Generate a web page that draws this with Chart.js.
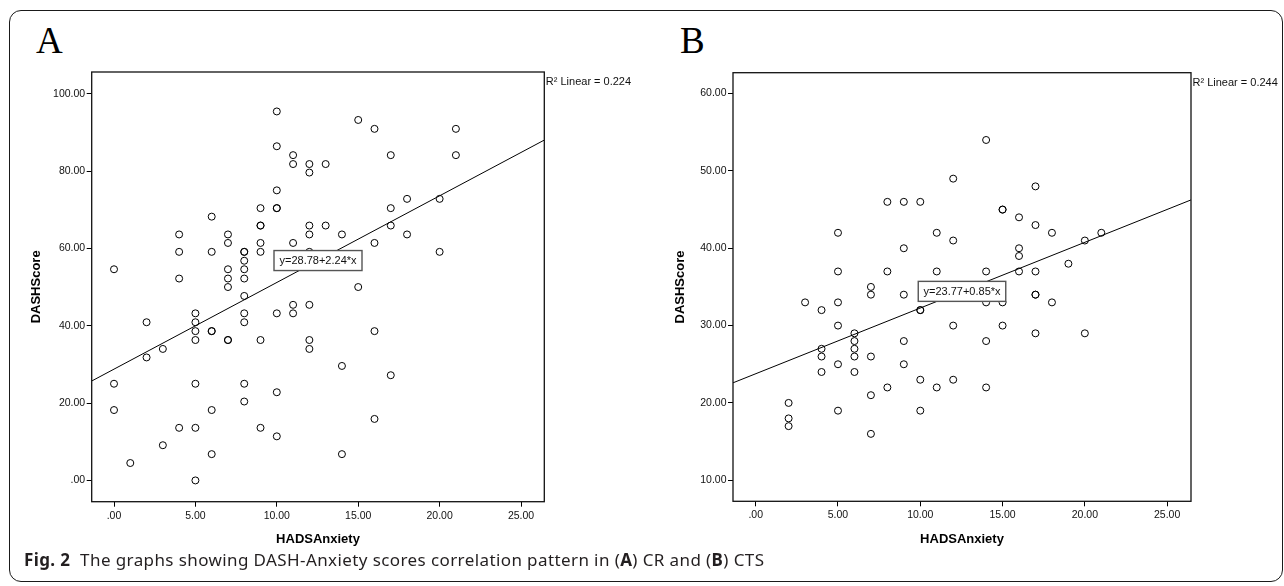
<!DOCTYPE html>
<html>
<head>
<meta charset="utf-8">
<script src="https://cdn.jsdelivr.net/npm/chart.js@4.4.1/dist/chart.umd.min.js"></script>
<style>
  body { margin: 0; background: #fff; width: 1284px; height: 586px; overflow: hidden; position: relative; }
  .frame { position: absolute; left: 9px; top: 10px; width: 1272px; height: 570px; border: 1.3px solid #1a1a1a; border-radius: 12px; }
  .letter { position: absolute; top: 22px; font-family: "Liberation Serif", serif; font-size: 37px; line-height: 37px; color: #000; }
  .plot { position: absolute; top: 60px; }
  .caption { position: absolute; left: 24px; top: 549px; font-family: "Noto Sans", sans-serif; font-size: 17px; letter-spacing: 0.4px; line-height: 22px; color: #231f20; white-space: nowrap; }
  .caption b { font-weight: 700; }
</style>
</head>
<body>
<div class="frame"></div>
<div class="letter" style="left:36px">A</div>
<div class="letter" style="left:680px">B</div>
<canvas id="chartA" class="plot" style="left:20px" width="620" height="490"></canvas>
<canvas id="chartB" class="plot" style="left:660px" width="620" height="490"></canvas>
<div class="caption"><b>Fig. 2</b>&nbsp; The graphs showing DASH-Anxiety scores correlation pattern in (<b>A</b>) CR and (<b>B</b>) CTS</div>

<script>
// ejes compartidos
const xTickValues = [0, 5, 10, 15, 20, 25];
const xTickLabels = ['.00', '5.00', '10.00', '15.00', '20.00', '25.00'];
const yTickValuesA = [0, 20, 40, 60, 80, 100];
const yTickLabelsA = ['.00', '20.00', '40.00', '60.00', '80.00', '100.00'];
const yTickValuesB = [10, 20, 30, 40, 50, 60];
const yTickLabelsB = ['10.00', '20.00', '30.00', '40.00', '50.00', '60.00'];

// A: CR
const anxietyA = [
  0, 0, 0, 1, 2, 2, 3, 3,
  4, 4, 4, 4,
  5, 5, 5, 5, 5, 5, 5,
  6, 6, 6, 6, 6, 6,
  7, 7, 7, 7, 7, 7, 7,
  8, 8, 8, 8, 8, 8, 8, 8, 8, 8,
  9, 9, 9, 9, 9, 9, 9,
  10, 10, 10, 10, 10, 10, 10, 10,
  11, 11, 11, 11, 11,
  12, 12, 12, 12, 12, 12, 12, 12,
  13, 13, 14, 14, 14, 15, 15,
  16, 16, 16, 16, 17, 17, 17, 17,
  18, 18, 20, 20, 21, 21
];
const dashA = [
  54.6, 25.0, 18.2, 4.5, 40.9, 31.8, 34.0, 9.1,
  63.6, 59.1, 52.2, 13.6,
  43.2, 40.9, 38.6, 36.3, 25.0, 13.6, 0,
  68.2, 59.1, 38.6, 38.6, 18.2, 6.8,
  63.6, 61.4, 54.6, 52.2, 50.0, 36.3, 36.3,
  59.1, 59.1, 56.8, 54.6, 52.2, 47.7, 43.2, 40.9, 25.0, 20.4,
  70.4, 65.9, 65.9, 61.4, 59.1, 36.3, 13.6,
  95.4, 86.4, 75.0, 70.4, 70.4, 43.2, 22.8, 11.4,
  84.1, 81.8, 61.4, 45.4, 43.2,
  81.8, 79.6, 65.9, 63.6, 59.1, 45.4, 36.3, 34.0,
  81.8, 65.9, 63.6, 29.6, 6.8, 93.2, 50.0,
  90.9, 61.4, 38.6, 15.9, 84.1, 70.4, 65.9, 27.2,
  72.8, 63.6, 72.8, 59.1, 90.9, 84.1
];
const fitXA = [-1.37, 26.43];
const fitYA = [25.7, 88.0];

// B: CTS
const anxietyB = [
  2, 2, 2, 3,
  4, 4, 4, 4,
  5, 5, 5, 5, 5, 5,
  6, 6, 6, 6, 6,
  7, 7, 7, 7, 7,
  8, 8, 8,
  9, 9, 9, 9, 9,
  10, 10, 10, 10, 10,
  11, 11, 11,
  12, 12, 12, 12,
  14, 14, 14, 14, 14,
  15, 15, 15, 15,
  16, 16, 16, 16,
  17, 17, 17, 17, 17, 17,
  18, 18, 19, 20, 20, 21
];
const dashB = [
  20, 18, 17, 33,
  32, 27, 26, 24,
  42, 37, 33, 30, 25, 19,
  29, 28, 27, 26, 24,
  35, 34, 26, 21, 16,
  46, 37, 22,
  46, 40, 34, 28, 25,
  46, 32, 32, 23, 19,
  42, 37, 22,
  49, 41, 30, 23,
  54, 37, 33, 28, 22,
  45, 45, 33, 30,
  44, 40, 39, 37,
  48, 43, 37, 34, 34, 29,
  42, 33, 38, 41, 29, 42
];
const fitXB = [-1.38, 26.45];
const fitYB = [22.6, 46.25];

const fontSans = '"Liberation Sans", Arial, sans-serif';

// marco, ecuación y R²
const spssDecor = {
  id: 'spssDecor',
  afterDatasetsDraw(chart, args, opts) {
    const { ctx, chartArea, scales } = chart;
    ctx.save();
    ctx.strokeStyle = '#111';
    ctx.lineWidth = 1.3;
    ctx.strokeRect(chartArea.left, chartArea.top, chartArea.right - chartArea.left, chartArea.bottom - chartArea.top);

    // etiqueta de la ecuación en el centro de la recta
    const cx = scales.x.getPixelForValue((opts.fitX[0] + opts.fitX[1]) / 2);
    const cy = scales.y.getPixelForValue((opts.fitY[0] + opts.fitY[1]) / 2);
    const w = opts.boxW, h = 20;
    ctx.fillStyle = '#fff';
    ctx.fillRect(cx - w / 2, cy - h / 2, w, h);
    ctx.strokeStyle = '#555';
    ctx.lineWidth = 1.4;
    ctx.strokeRect(cx - w / 2, cy - h / 2, w, h);
    ctx.fillStyle = '#111';
    ctx.font = '11px ' + fontSans;
    ctx.textAlign = 'center';
    ctx.textBaseline = 'middle';
    ctx.fillText(opts.equation, cx, cy + 0.5);

    ctx.textAlign = 'left';
    ctx.fillText(opts.r2, chartArea.right + 1.5, chartArea.top + 10);
    ctx.restore();
  }
};

function crearPanel(id, cfg) {
  const ctx = document.getElementById(id).getContext('2d');
  return new Chart(ctx, {
    type: 'scatter',
    data: {
      datasets: [{
        data: cfg.xs.map((x, i) => ({ x: x, y: cfg.ys[i] })),
        pointRadius: 3.5,
        pointBorderWidth: 1,
        pointBorderColor: '#000',
        pointBackgroundColor: 'rgba(255,255,255,0)'
      }, {
        type: 'line',
        data: cfg.fitX.map((x, i) => ({ x: x, y: cfg.fitY[i] })),
        borderColor: '#000',
        borderWidth: 1,
        pointRadius: 0,
        fill: false
      }]
    },
    options: {
      responsive: false,
      animation: false,
      events: [],
      layout: { padding: { left: 0, top: cfg.padTop, right: cfg.padRight, bottom: 0 } },
      plugins: {
        legend: { display: false },
        tooltip: { enabled: false },
        spssDecor: { fitX: cfg.fitX, fitY: cfg.fitY, equation: cfg.equation, r2: cfg.r2, boxW: cfg.boxW }
      },
      scales: {
        x: {
          type: 'linear',
          min: cfg.fitX[0],
          max: cfg.fitX[1],
          afterBuildTicks: s => { s.ticks = xTickValues.map(v => ({ value: v })); },
          afterFit: s => { s.height = cfg.xHeight; },
          border: { display: false },
          grid: { drawOnChartArea: false, drawTicks: true, tickLength: 5, color: '#000', lineWidth: 1 },
          ticks: {
            padding: 3,
            color: '#111',
            autoSkip: false,
            maxRotation: 0,
            font: { family: fontSans, size: 10.5 },
            callback: (v, i) => xTickLabels[i]
          },
          title: {
            display: true,
            text: 'HADSAnxiety',
            color: '#000',
            font: { family: fontSans, size: 13, weight: 'bold' },
            padding: { top: 0, bottom: 3 }
          }
        },
        y: {
          type: 'linear',
          min: cfg.yMin,
          max: cfg.yMax,
          afterBuildTicks: s => { s.ticks = cfg.yTicks.map(v => ({ value: v })); },
          afterFit: s => { s.width = cfg.yWidth; },
          border: { display: false },
          grid: { drawOnChartArea: false, drawTicks: true, tickLength: 5, color: '#000', lineWidth: 1 },
          ticks: {
            padding: 1.5,
            color: '#111',
            autoSkip: false,
            font: { family: fontSans, size: 10.5 },
            callback: (v, i) => cfg.yLabels[i]
          },
          title: {
            display: true,
            text: 'DASHScore',
            color: '#000',
            font: { family: fontSans, size: 13, weight: 'bold' },
            padding: { top: cfg.yTitlePad, bottom: 0 }
          }
        }
      }
    },
    plugins: [spssDecor]
  });
}

crearPanel('chartA', {
  xs: anxietyA, ys: dashA, fitX: fitXA, fitY: fitYA,
  yMin: -5.5, yMax: 105.6, yTicks: yTickValuesA, yLabels: yTickLabelsA,
  equation: 'y=28.78+2.24*x', r2: 'R² Linear = 0.224', boxW: 88,
  padTop: 12, padRight: 95.7, yWidth: 71.7, xHeight: 48.3, yTitlePad: 9
});

crearPanel('chartB', {
  xs: anxietyB, ys: dashB, fitX: fitXB, fitY: fitYB,
  yMin: 7.28, yMax: 62.7, yTicks: yTickValuesB, yLabels: yTickLabelsB,
  equation: 'y=23.77+0.85*x', r2: 'R² Linear = 0.244', boxW: 87.5,
  padTop: 12.7, padRight: 89, yWidth: 73, xHeight: 48.7, yTitlePad: 13
});
</script>
</body>
</html>
